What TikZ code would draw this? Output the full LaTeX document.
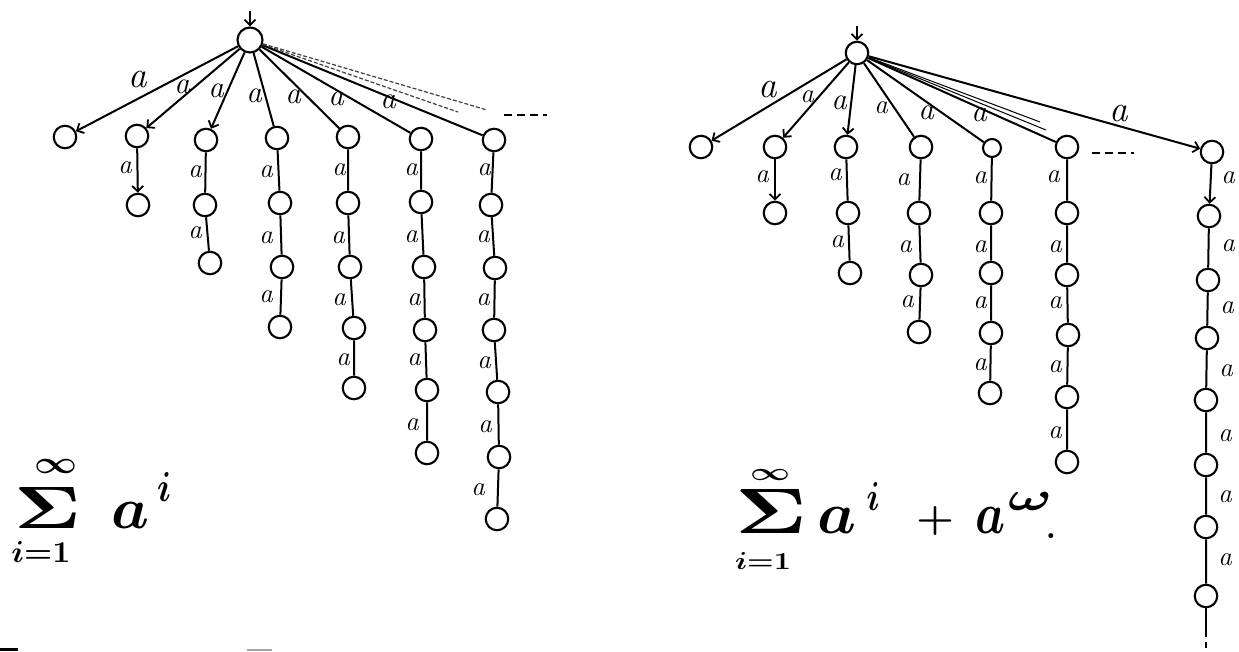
\documentclass[tikz,border=0pt]{standalone}
\usepackage{fontspec}
\usetikzlibrary{arrows.meta}
\begin{document}
\begin{tikzpicture}[x=1pt,y=-1pt,
  st/.style={circle,draw,line width=2.1pt,minimum size=22.5pt,inner sep=0pt},
  ed/.style={line width=2pt},
  ar/.style={line width=2pt,-{Straight Barb[length=5.5pt,width=11pt,line width=1.8pt]}},
  faint/.style={line width=1.2pt,dash pattern=on 4pt off 2pt,black!75},
  thinl/.style={line width=1pt},
  dsh/.style={line width=2pt,dash pattern=on 8pt off 5pt},
  lb/.style={font=\fontsize{27}{27}\selectfont\itshape,inner sep=0pt},
  lbb/.style={font=\fontsize{31}{31}\selectfont\itshape,inner sep=0pt},
  lbl/.style={font=\fontsize{37}{37}\selectfont\itshape,inner sep=0pt},
  fm/.style={inner sep=0pt}]
\useasboundingbox (0,0) rectangle (1239,651);

% ================= LEFT TREE =================
\node[st,minimum size=25pt] (L) at (250,40) {};
\coordinate (Lin) at (250,11);
\draw[ar] (Lin) -- (L);

\node[st] (L1) at (65,137) {};
\node[st] (L2) at (137,136) {};
\node[st] (L2b) at (138,205) {};
\node[st] (L3) at (206,140) {};
\node[st] (L3b) at (205,205) {};
\node[st] (L3c) at (210,263) {};
\node[st] (L4) at (277,138) {};
\node[st] (L4b) at (280,203) {};
\node[st] (L4c) at (282,267) {};
\node[st] (L4d) at (280,327) {};
\node[st] (L5) at (348,137) {};
\node[st] (L5b) at (348,203) {};
\node[st] (L5c) at (350,267) {};
\node[st] (L5d) at (354,328) {};
\node[st] (L5e) at (354,388) {};
\node[st] (L6) at (421,139) {};
\node[st] (L6b) at (421,202) {};
\node[st] (L6c) at (424,267) {};
\node[st] (L6d) at (425,330) {};
\node[st] (L6e) at (427,390) {};
\node[st] (L6f) at (427,453) {};
\node[st] (L7) at (494,140) {};
\node[st] (L7b) at (491,205) {};
\node[st] (L7c) at (495,268) {};
\node[st] (L7d) at (494,330) {};
\node[st] (L7e) at (498,392) {};
\node[st] (L7f) at (499,457) {};
\node[st] (L7g) at (497,519) {};

\draw[ar] (L) -- (L1);
\draw[ar] (L) -- (L2);
\draw[ar] (L) -- (L3);
\draw[ed] (L) -- (L4);
\draw[ed] (L) -- (L5);
\draw[ed] (L) -- (L6);
\draw[ed] (L) -- (L7);
\coordinate (Lf1) at (487,110);
\coordinate (Lf2) at (458,112);
\draw[faint] (L) -- (Lf1);
\draw[faint] (L) -- (Lf2);
\coordinate (Ld1) at (504,115);
\coordinate (Ld2) at (547,115);
\draw[dsh] (Ld1) -- (Ld2);

\draw[ar] (L2) -- (L2b);
\draw[ed] (L3) -- (L3b) -- (L3c);
\draw[ed] (L4) -- (L4b) -- (L4c) -- (L4d);
\draw[ed] (L5) -- (L5b) -- (L5c) -- (L5d) -- (L5e);
\draw[ed] (L6) -- (L6b) -- (L6c) -- (L6d) -- (L6e) -- (L6f);
\draw[ed] (L7) -- (L7b) -- (L7c) -- (L7d) -- (L7e) -- (L7f) -- (L7g);

\node[lbl] (la1) at (138,80) {a};
\node[lbb] (la2) at (182,87) {a};
\node[lbb] (la3) at (216,91) {a};
\node[lbb] (la4) at (254,96) {a};
\node[lbb] (la5) at (293,97) {a};
\node[lbb] (la6) at (336,99) {a};
\node[lbb] (la7) at (388,102) {a};

\node[lb] (lc2a) at (125,168) {a};
\node[lb] (lc3a) at (195,172) {a};
\node[lb] (lc3b) at (195,233) {a};
\node[lb] (lc4a) at (266,172) {a};
\node[lb] (lc4b) at (266,238) {a};
\node[lb] (lc4c) at (266,297) {a};
\node[lb] (lc5a) at (339,170) {a};
\node[lb] (lc5b) at (338,238) {a};
\node[lb] (lc5c) at (339,300) {a};
\node[lb] (lc5d) at (343,360) {a};
\node[lb] (lc6a) at (411,170) {a};
\node[lb] (lc6b) at (411,237) {a};
\node[lb] (lc6c) at (414,300) {a};
\node[lb] (lc6d) at (414,360) {a};
\node[lb] (lc6e) at (412,425) {a};
\node[lb] (lc7a) at (484,170) {a};
\node[lb] (lc7b) at (483,237) {a};
\node[lb] (lc7c) at (483,300) {a};
\node[lb] (lc7d) at (484,363) {a};
\node[lb] (lc7e) at (485,427) {a};
\node[lb] (lc7f) at (478,490) {a};

% left formula
\node[fm] (linf) at (56,466) {\resizebox{43pt}{14pt}{\boldmath$\infty$}};
\node[fm] (lsum) at (48,508) {\resizebox{67pt}{41pt}{\boldmath$\Sigma$}};
\node[fm] (llow) at (41,552) {\resizebox{59pt}{21pt}{\boldmath$i{=}1$}};
\node[fm] (la) at (131,515) {\resizebox{38pt}{26pt}{\boldmath$a$}};
\node[fm] (li) at (164,487) {\resizebox{14pt}{29pt}{\boldmath$i$}};

% ================= RIGHT TREE =================
\node[st] (R) at (857,53) {};
\coordinate (Rin) at (857,26);
\draw[ar] (Rin) -- (R);

\node[st] (R1) at (701,147) {};
\node[st] (R2) at (775,147) {};
\node[st] (R2b) at (775,213) {};
\node[st] (R3) at (846,147) {};
\node[st] (R3b) at (848,213) {};
\node[st] (R3c) at (850,273) {};
\node[st] (R4) at (921,147) {};
\node[st] (R4b) at (919,213) {};
\node[st] (R4c) at (921,275) {};
\node[st] (R4d) at (919,332) {};
\node[st,minimum size=18pt] (R5) at (992,148) {};
\node[st] (R5b) at (991,213) {};
\node[st] (R5c) at (991,273) {};
\node[st] (R5d) at (991,333) {};
\node[st] (R5e) at (990,393) {};
\node[st] (R6) at (1067,147) {};
\node[st] (R6b) at (1067,213) {};
\node[st] (R6c) at (1067,275) {};
\node[st] (R6d) at (1068,335) {};
\node[st] (R6e) at (1067,397) {};
\node[st] (R6f) at (1067,462) {};
\node[st] (R7) at (1212,152) {};
\node[st] (R7b) at (1209,216) {};
\node[st] (R7c) at (1208,280) {};
\node[st] (R7d) at (1207,338) {};
\node[st] (R7e) at (1206,400) {};
\node[st] (R7f) at (1206,465) {};
\node[st] (R7g) at (1206,527) {};
\node[st] (R7h) at (1206,596) {};

\draw[ar] (R) -- (R1);
\draw[ar] (R) -- (R2);
\draw[ar] (R) -- (R3);
\draw[ed] (R) -- (R4);
\draw[ed] (R) -- (R5);
\draw[ed] (R) -- (R6);
\draw[ar] (R) -- (R7);
\coordinate (Rf1) at (1040,122);
\coordinate (Rf2) at (1046,130);
\draw[thinl] (R) -- (Rf1);
\draw[thinl] (R) -- (Rf2);
\coordinate (Rd1) at (1092,153);
\coordinate (Rd2) at (1134,153);
\draw[dsh] (Rd1) -- (Rd2);

\draw[ar] (R2) -- (R2b);
\draw[ed] (R3) -- (R3b) -- (R3c);
\draw[ed] (R4) -- (R4b) -- (R4c) -- (R4d);
\draw[ed] (R5) -- (R5b) -- (R5c) -- (R5d) -- (R5e);
\draw[ed] (R6) -- (R6b) -- (R6c) -- (R6d) -- (R6e) -- (R6f);
\draw[ar] (R7) -- (R7b);
\draw[ed] (R7b) -- (R7c) -- (R7d) -- (R7e) -- (R7f) -- (R7g) -- (R7h);
\coordinate (Rt1) at (1206,631);
\coordinate (Rt2) at (1206,651);
\draw[ed] (R7h) -- (Rt1);
\draw[line width=2pt,dash pattern=on 6pt off 5pt] (Rt1) -- (Rt2);

\node[lbl] (ra1) at (768,90) {a};
\node[lb] (ra2) at (807,97) {a};
\node[lbb] (ra3) at (839,103) {a};
\node[lb] (ra4) at (881,108) {a};
\node[lbb] (ra5) at (926,113) {a};
\node[lbb] (ra6) at (979,115) {a};
\node[lbl] (ra7) at (1119,114) {a};

\node[lb] (rc2a) at (762,177) {a};
\node[lb] (rc3a) at (835,175) {a};
\node[lb] (rc3b) at (837,242) {a};
\node[lb] (rc4a) at (903,180) {a};
\node[lb] (rc4b) at (905,247) {a};
\node[lb] (rc4c) at (907,302) {a};
\node[lb] (rc5a) at (980,178) {a};
\node[lb] (rc5b) at (980,247) {a};
\node[lb] (rc5c) at (980,303) {a};
\node[lb] (rc5d) at (980,365) {a};
\node[lb] (rc6a) at (1053,177) {a};
\node[lb] (rc6b) at (1055,247) {a};
\node[lb] (rc6c) at (1055,303) {a};
\node[lb] (rc6d) at (1055,367) {a};
\node[lb] (rc6e) at (1055,433) {a};
\node[lb] (rc7a) at (1228,178) {a};
\node[lb] (rc7b) at (1228,246) {a};
\node[lb] (rc7c) at (1227,308) {a};
\node[lb] (rc7d) at (1226,371) {a};
\node[lb] (rc7e) at (1225,436) {a};
\node[lb] (rc7f) at (1225,497) {a};
\node[lb] (rc7g) at (1225,560) {a};

% right formula
\node[fm] (rinf) at (770,475) {\resizebox{40pt}{11pt}{\boldmath$\infty$}};
\node[fm] (rsum) at (771,511) {\resizebox{72pt}{44pt}{\boldmath$\Sigma$}};
\node[fm] (rlow) at (763,561) {\resizebox{56pt}{17pt}{\boldmath$i{=}1$}};
\node[fm] (ra) at (837,520) {\resizebox{39pt}{26pt}{\boldmath$a$}};
\node[fm] (ri) at (873,496) {\resizebox{13pt}{28pt}{\boldmath$i$}};
\node[fm] (rplus) at (935,521) {\resizebox{38pt}{24pt}{\boldmath$+$}};
\node[fm] (ra2f) at (990,520) {\resizebox{30pt}{26pt}{\boldmath$a$}};
\node[fm] (romega) at (1030,501) {\resizebox{44pt}{18pt}{\boldmath$\omega$}};
\node[fm,font=\fontsize{34}{34}\selectfont\bfseries] (rdot) at (1051,536) {.};

% scan marks at the bottom edge
\fill[black] (0,648) rectangle (18,651);
\fill[black!35] (247,649) rectangle (272,651);
\end{tikzpicture}
\end{document}
